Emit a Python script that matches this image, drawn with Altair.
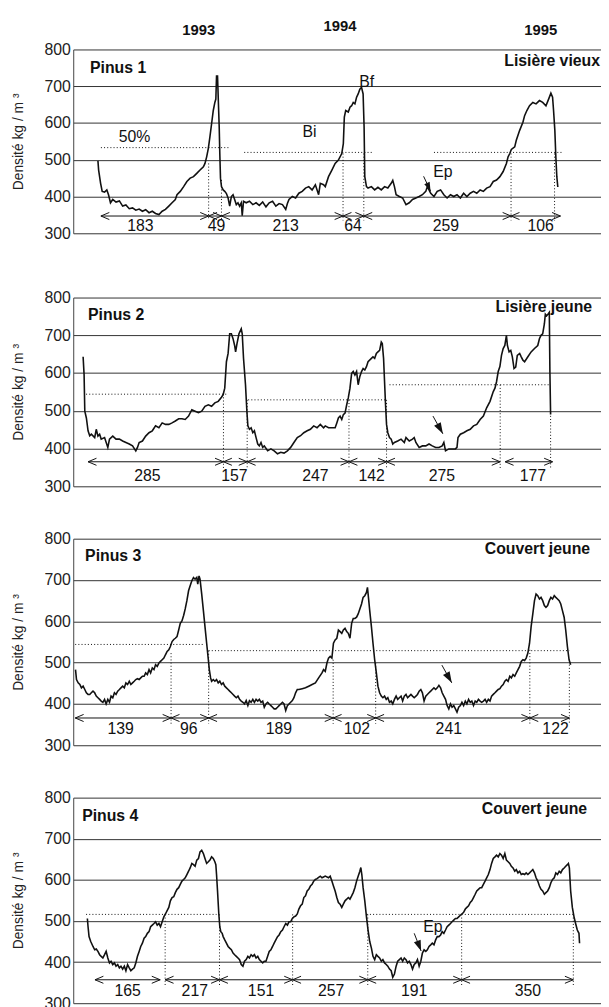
import altair as alt
import pandas as pd

FONT = "Liberation Sans"
INK = "#111111"
X_DOMAIN = [75, 609]
PLOT_W = 534
Y_TICKS = [300, 400, 500, 600, 700, 800]

# ---------------- Panel 1 : Pinus 1 ----------------
p1_x = [100, 100.7, 102.7, 104.3, 106.7, 109, 110.7, 112.7, 115, 118.3,
        121.7, 125, 128.3, 131.7, 135, 138.3, 141.7, 145, 148.3, 151.7,
        155, 158.3, 161.7, 165, 168.3, 171.7, 175, 178.3, 180, 183.3,
        186.7, 190, 193.3, 196.7, 200, 203.3, 206.7, 208.3, 210, 211.7,
        213.3, 215, 216.7, 218.3, 219.3, 220, 221, 221.7, 222.7, 223.3,
        224, 225, 226.7, 228.3, 230, 231.7, 233.3, 235, 236.7, 238.3,
        240, 241.7, 243.3, 245, 246, 247.3, 250, 253.3, 256.7, 260,
        263.3, 266.7, 270, 273.3, 276.7, 280, 283.3, 286.7, 290, 291.7,
        293.3, 296.7, 300, 303.3, 306.7, 310, 313.3, 316.7, 320, 323.3,
        325, 328.3,
        330, 333.3, 336.7, 340, 343.3, 346.7, 348.3, 349.3, 350.7, 353.3,
        355, 356.7, 358.3, 360, 361.7, 363.3, 365, 366.7, 368.3, 369.3,
        370, 371.7, 373.3, 376.7, 380, 383.3, 386.7, 390, 393.3, 396.7,
        398.3, 400, 401.7, 405, 408.3, 411.7, 415, 418.3, 421.7, 425,
        428.3, 431.7, 433.3, 436.7, 440, 443.3, 446.7, 450, 453.3, 456.7,
        460, 463.3, 466.7, 470, 473.3, 476.7, 480, 483.3, 486.7, 490,
        493.3, 496.7, 500, 503.3, 506.7, 510, 513.3, 515, 516.7, 518.3,
        521.7, 523.3, 526.7, 530, 531.7, 534, 536.7, 540, 543.3, 546.7,
        550, 553.3, 556, 558.3, 560, 561, 562.3, 563.3, 564.3, 565.3]
p1_d = [497, 472, 436, 414, 412, 418, 405, 383, 392, 385,
        388, 374, 377, 367, 369, 363, 366, 360, 364, 356,
        360, 354, 351, 360, 365, 374, 383, 392, 405, 414,
        427, 441, 450, 454, 463, 472, 481, 490, 508, 531,
        562, 598, 634, 656, 665, 728, 728, 670, 589, 517,
        450, 427, 418, 414, 408, 396, 374, 400, 405, 392,
        378, 383, 374, 383, 348, 387, 383, 387, 378, 383,
        376, 385, 372, 383, 387, 374, 381, 378, 365, 381,
        392, 400, 396, 409, 414, 423, 427, 418, 432, 405,
        436, 432,
        427, 454, 472, 490, 499, 517, 544, 616, 634, 630,
        643, 647, 656, 652, 670, 679, 692, 697, 679, 589,
        454, 427, 423, 427, 418, 425, 418, 427, 423, 436,
        444, 427, 405, 400, 396, 378, 383, 392, 396, 400,
        405, 414, 427, 409, 400, 414, 418, 405, 396, 405,
        400, 405, 396, 409, 400, 409, 414, 409, 418, 414,
        423, 427, 441, 445, 454, 468, 490, 508, 517, 528,
        535, 553, 580, 602, 620, 634, 647, 656, 652, 661,
        656, 647, 665, 681, 670, 634, 580, 508, 454, 426]
p1_seg_start = [103, 212, 225, 348, 369, 518]
p1_seg_end = [212, 225, 348, 369, 518, 568]
p1_seg_label = ["183", "49", "213", "64", "259", "106"]
p1_seg_label_x = [143, 220, 290, 358, 452, 548]
p1_arrow_d = 347
p1_label_d = 321
p1_half_x = [103, 248, 440]
p1_half_x2 = [233, 378, 570]
p1_half_d = [533, 520, 520]
p1_vline_x = [212, 225, 348, 369, 518, 562]
p1_vline_top = [490, 445, 517, 517, 517, 517]
p1_vline_bottom = 335

year_labels = ["1993", "1994", "1995"]
year_x = [202, 345, 548]
year_d = [852, 865, 852]

p1_note_text = ["50%", "Bi", "Bf", "Ep"]
p1_note_x = [137, 314, 372, 449]
p1_note_d = [563, 576, 712, 466]

# ---------------- Panel 2 : Pinus 2 ----------------
p2_x = [85, 86, 86.7, 88.3, 90, 91.7, 93.3, 96.7, 98.3, 100,
        101.7, 103.3, 106.7, 110, 111.7, 115, 118.3, 121.7, 125, 128.3,
        131.7, 135, 138.3, 140, 141.7, 145, 148.3, 151.7, 155, 158.3,
        161.7, 165, 168.3, 171.7, 175, 178.3, 181.7, 185, 188.3, 191.7,
        195, 198.3, 201.7, 205, 208.3, 211.7, 215, 218.3, 221.7, 225,
        226.7, 228.3, 230, 231.7, 233.3, 235, 236.7, 238.3, 239.3, 240.7,
        242.7, 245, 246, 247.3, 249.3, 250.7, 251.7, 253.3, 255, 256.7,
        258.3, 260, 261.7, 263.3, 265, 266.7, 268.3, 271.7, 275, 278.3,
        281.7, 285, 288.3, 291.7, 295, 298.3, 301.7, 305, 308.3, 311.7,
        315, 318.3, 321.7, 325, 328.3,
        330, 333.3, 336.7, 340, 341.7, 343.3, 345, 346.7, 348.3, 350,
        351.7, 353.3, 355, 356.7, 358.3, 360, 361.7, 363.3, 365, 366.7,
        368.3, 370, 371.7, 373.3, 376.7, 378.3, 380, 381.7, 383.3, 385,
        386.7, 387.7, 389, 390, 391, 392, 393.3, 395, 396.7, 398.3,
        400, 403.3, 406.7, 410, 411.7, 415, 418.3, 420, 421.7, 425,
        428.3, 431.7, 435, 438.3, 441.7, 445, 448.3, 450, 451.7, 455,
        458.3, 461.7, 463.3, 464.3, 466.7, 470, 473.3, 476.7, 480, 483.3,
        486.7, 490, 493.3, 496.7, 500, 501.7, 503.3, 505, 506.7, 508.3,
        510, 511.7, 513.3, 514.3, 516, 517.7, 519.3, 521, 522.7, 524.3,
        526.7, 528.3, 530, 531.7, 535, 538.3, 541.7, 545, 546.7, 548.3,
        550, 551.7, 552.7, 554, 555.3, 556.7, 557.3, 558]
p2_d = [643, 595, 499, 481, 447, 434, 438, 429, 451, 433,
        438, 425, 429, 403, 425, 433, 425, 425, 420, 416,
        412, 407, 394, 403, 416, 420, 433, 442, 447, 460,
        455, 468, 464, 464, 468, 473, 479, 479, 477, 486,
        503, 499, 495, 499, 512, 516, 512, 521, 525, 536,
        543, 560, 630, 652, 704, 704, 691, 673, 656, 678,
        704, 717, 704, 639, 569, 499, 460, 451, 455, 442,
        447, 429, 412, 407, 416, 403, 407, 394, 399, 394,
        386, 390, 388, 394, 403, 416, 429, 434, 442, 447,
        451, 460, 455, 464, 455,
        460, 455, 455, 455, 468, 481, 486, 477, 490, 494,
        516, 534, 560, 599, 604, 595, 604, 569, 591, 604,
        612, 608, 617, 630, 639, 643, 639, 652, 656, 660,
        682, 678, 639, 577, 516, 464, 442, 429, 425, 412,
        416, 420, 425, 416, 429, 420, 425, 429, 416, 403,
        407, 407, 412, 407, 403, 403, 407, 416, 394, 399,
        399, 399, 403, 429, 438, 442, 447, 451, 460, 464,
        477, 486, 508, 525, 551, 560, 577, 604, 617, 647,
        665, 673, 700, 673, 656, 660, 643, 612, 616, 647,
        652, 643, 634, 630, 643, 656, 665, 673, 691, 700,
        704, 730, 756, 752, 756, 761, 604, 490]
p2_seg_start = [90, 227, 251, 354, 392, 512]
p2_seg_end = [227, 251, 354, 392, 507, 560]
p2_seg_label = ["285", "157", "247", "142", "275", "177"]
p2_seg_label_x = [150, 238, 320, 377, 448, 540]
p2_arrow_d = 365
p2_label_d = 326
p2_half_x = [88, 252, 395]
p2_half_x2 = [230, 392, 558]
p2_half_d = [544, 529, 569]
p2_vline_x = [227, 251, 354, 392, 507, 558]
p2_vline_top = [544, 529, 529, 529, 569, 495]
p2_vline_bottom = 345

# ---------------- Panel 3 : Pinus 3 ----------------
p3_x = [77.3, 78.3, 80, 81.7, 83.3, 85, 86.7, 88.3, 90, 91.7,
        93.3, 95, 96.7, 98.3, 100, 101.7, 103.3, 105, 106.7, 108.3,
        110, 111.7, 113.3, 115, 116.7, 118.3, 120, 121.7, 123.3, 125,
        126.7, 128.3, 130, 131.7, 133.3, 135, 136.7, 138.3, 140, 141.7,
        143.3, 145, 146.7, 148.3, 150, 151.7, 153.3, 155, 156.7, 158.3,
        160, 161.7, 163.3, 165, 166.7, 168.3, 170, 171.7, 173.3, 175,
        176.7, 178.3, 180, 181.7, 183.3, 185, 186.7, 188.3, 190, 191.7,
        193.3, 195, 196.7, 198.3, 200, 201, 202.3, 203.3, 205, 206.7,
        208.3, 210, 211.7, 212.7, 214, 215, 216.7, 218.3, 220, 221.7,
        223.3, 225, 226.7, 228.3, 230, 231.7, 233.3, 235, 236.7, 238.3,
        240, 241.7, 243.3, 245, 246.7, 248.3, 250, 251.7, 253.3, 255,
        256.7, 258.3, 260, 261.7, 263.3, 265, 266.7, 268.3, 270, 271.7,
        273.3, 275, 276.7, 278.3, 280, 281.7, 283.3, 285, 286.7, 288.3,
        290, 291.7, 293.3, 295, 296.7, 298.3, 300, 301.7, 303.3, 306.7,
        310, 313.3, 316.7, 320, 323.3, 326.7, 328.3,
        330, 331.7, 333.3, 335, 336.7, 338.3, 340, 341.7, 343.3, 345,
        346.7, 348.3, 350, 351.7, 353.3, 355, 356.7, 358.3, 360, 361.7,
        363.3, 365, 366.7, 368.3, 370, 371.7, 372.7, 373.7, 375, 376.7,
        378.3, 380, 381.7, 383.3, 385, 386.7, 388.3, 390, 391.7, 393.3,
        395, 396.7, 398.3, 400, 401.7, 403.3, 405, 406.7, 408.3, 410,
        411.7, 413.3, 415, 416.7, 418.3, 420, 421.7, 423.3, 425, 426.7,
        428.3, 430, 431.7, 433.3, 435, 436.7, 438.3, 440, 441.7, 443.3,
        445, 446.7, 448.3, 450, 451.7, 453.3, 455, 456.7, 458.3, 460,
        461.7, 463.3, 465, 466.7, 468.3, 470, 471.7, 473.3, 475, 476.7,
        478.3, 480, 481.7, 483.3, 485, 486.7, 488.3, 490, 491.7, 493.3,
        495, 496.7, 498.3, 500, 501.7, 503.3, 505, 506.7, 508.3, 510,
        511.7, 513.3, 515, 516.7, 518.3, 520, 521.7, 523.3, 525, 526.7,
        528.3, 530, 531.7, 533.3, 535, 536.7, 538.3, 540, 541.7, 543.3,
        545, 546.7, 548.3, 550, 551.7, 553.3, 555, 556.7, 558.3, 560,
        561.7, 563.3, 565, 566.7, 568.3, 570, 571.7, 573.3, 575, 576.7,
        578.3]
p3_d = [483, 459, 451, 447, 439, 443, 435, 427, 423, 423,
        427, 431, 427, 419, 415, 411, 407, 404, 411, 400,
        411, 404, 419, 415, 427, 423, 431, 435, 439, 443,
        439, 451, 447, 455, 447, 451, 455, 459, 461, 459,
        463, 467, 467, 475, 471, 483, 475, 487, 483, 495,
        491, 499, 503, 507, 511, 519, 527, 531, 539, 551,
        556, 559, 563, 579, 595, 601, 614, 630, 650, 674,
        686, 698, 706, 702, 706, 690, 710, 702, 666, 626,
        587, 547, 507, 483, 463, 455, 459, 455, 459, 451,
        455, 447, 451, 443, 439, 435, 431, 427, 423, 419,
        415, 419, 411, 407, 404, 400, 408, 396, 408, 404,
        411, 404, 411, 407, 411, 404, 407, 392, 400, 404,
        400, 396, 392, 388, 388, 392, 396, 400, 404, 400,
        384, 396, 400, 404, 408, 415, 427, 435, 435, 437,
        439, 443, 447, 451, 463, 475, 483,
        479, 499, 511, 515, 511, 547, 555, 559, 579, 575,
        571, 579, 583, 575, 571, 559, 595, 607, 607, 610,
        618, 630, 642, 658, 662, 670, 682, 658, 626, 587,
        547, 507, 475, 443, 427, 419, 415, 419, 411, 415,
        404, 407, 400, 411, 419, 411, 415, 419, 407, 419,
        423, 415, 419, 423, 419, 415, 419, 423, 431, 435,
        427, 407, 419, 423, 427, 431, 435, 439, 435, 439,
        445, 439, 427, 419, 411, 396, 388, 400, 392, 396,
        388, 380, 392, 396, 404, 396, 407, 400, 411, 404,
        407, 396, 407, 404, 411, 407, 404, 407, 411, 404,
        411, 407, 419, 423, 427, 431, 435, 437, 443, 447,
        455, 459, 455, 467, 463, 471, 467, 475, 483, 491,
        503, 507, 505, 511, 523, 547, 587, 618, 650, 666,
        662, 654, 658, 650, 638, 634, 638, 650, 658, 654,
        662, 658, 654, 650, 642, 626, 610, 579, 539, 507,
        495]
p3_seg_start = [77, 174, 212, 338, 381, 537]
p3_seg_end = [174, 212, 338, 381, 537, 577]
p3_seg_label = ["139", "96", "189", "102", "241", "122"]
p3_seg_label_x = [123, 192, 283, 362, 455, 563]
p3_arrow_d = 366
p3_label_d = 340
p3_half_x = [77, 212]
p3_half_x2 = [208, 577]
p3_half_d = [544, 529]
p3_vline_x = [174, 212, 338, 381, 537, 577]
p3_vline_top = [523, 529, 507, 499, 531, 495]
p3_vline_bottom = 352

# ---------------- Panel 4 : Pinus 4 ----------------
p4_x = [89.3, 90, 91, 92.7, 95, 96.7, 98.3, 100, 101.7, 103.3,
        105, 106.7, 108.3, 110, 111.7, 113.3, 115, 116.7, 118.3, 120,
        121.7, 123.3, 125, 126.7, 128.3, 130, 131.7, 133.3, 135, 136.7,
        138.3, 140, 141.7, 143.3, 145, 146.7, 148.3, 150, 151.7, 153.3,
        155, 156.7, 158.3, 160, 161.7, 163.3, 165, 166.7, 168.3, 170,
        171.7, 173.3, 175, 176.7, 178.3, 180, 181.7, 183.3, 185, 186.7,
        188.3, 190, 191.7, 193.3, 195, 196.7, 198.3, 200, 201.7, 203.3,
        205, 206.7, 208.3, 210, 211.7, 213.3, 215, 216.7, 218.3, 219.3,
        220, 221, 222.3, 223.3, 224.3, 225.7, 226.7, 228.3, 230, 231.7,
        233.3, 235, 236.7, 238.3, 240, 241.7, 243.3, 245, 246.7, 248.3,
        250, 251.7, 253.3, 255, 256.7, 258.3, 260, 261.7, 263.3, 265,
        266.7, 268.3, 270, 271.7, 273.3, 275, 276.7, 278.3, 280, 281.7,
        283.3, 285, 286.7, 288.3, 290, 291.7, 293.3, 295, 296.7, 298.3,
        300, 301.7, 303.3, 305, 306.7, 308.3, 310, 311.7, 313.3, 315,
        316.7, 318.3, 320, 321.7, 323.3, 325, 326.7, 328.3,
        330, 333.3, 335, 336.7, 338.3, 340, 341.7, 343.3, 345, 346.7,
        348.3, 350, 351.7, 353.3, 355, 356.7, 358.3, 360, 361.7, 363.3,
        365, 366, 367, 368.3, 370, 371.7, 373.3, 375, 376.7, 378.3,
        380, 381.7, 383.3, 385, 386.7, 388.3, 390, 391.7, 393.3, 395,
        396.7, 398.3, 400, 401.7, 403.3, 405, 406.7, 408.3, 410, 411.7,
        413.3, 415, 416.7, 418.3, 420, 421.7, 423.3, 425, 426.7, 428.3,
        430, 431.7, 433.3, 435, 436.7, 438.3, 440, 441.7, 443.3, 445,
        446.7, 448.3, 450, 451.7, 453.3, 455, 456.7, 458.3, 460, 461.7,
        463.3, 465, 466.7, 468.3, 470, 471.7, 473.3, 475, 476.7, 478.3,
        480, 481.7, 483.3, 485, 486.7, 488.3, 490, 491.7, 493.3, 495,
        496.7, 498.3, 500, 501.7, 503.3, 505, 506.7, 508.3, 510, 511.7,
        513.3, 515, 516.7, 518.3, 520, 521.7, 523.3, 525, 526.7, 528.3,
        530, 531.7, 533.3, 535, 536.7, 538.3, 540, 541.7, 543.3, 545,
        546.7, 548.3, 550, 551.7, 553.3, 555, 556.7, 558.3, 560, 561.7,
        563.3, 565, 566.7, 568.3, 570, 571.7, 573.3, 575, 576, 577,
        578.3, 580, 581.7, 583.3, 585, 586.7, 587.3]
p4_d = [506, 486, 462, 450, 438, 430, 432, 426, 418, 414,
        410, 418, 426, 410, 398, 402, 394, 398, 390, 394,
        386, 390, 383, 390, 379, 394, 386, 379, 383, 386,
        398, 414, 426, 438, 446, 458, 462, 470, 474, 486,
        490, 494, 498, 490, 494, 486, 498, 510, 517, 525,
        533, 549, 557, 559, 569, 577, 581, 589, 597, 601,
        605, 613, 621, 629, 640, 637, 633, 648, 652, 668,
        672, 664, 652, 640, 644, 648, 656, 652, 644, 637,
        613, 573, 517, 486, 474, 470, 462, 454, 446, 438,
        434, 430, 422, 418, 414, 410, 406, 394, 390, 402,
        406, 414, 410, 418, 414, 418, 410, 414, 406, 402,
        398, 402, 402, 414, 426, 430, 438, 446, 454, 462,
        466, 474, 478, 486, 494, 490, 498, 498, 506, 510,
        512, 517, 529, 537, 541, 557, 561, 573, 577, 585,
        589, 597, 601, 603, 606, 609, 605, 607,
        609, 605, 609, 597, 585, 573, 557, 545, 541, 533,
        541, 549, 553, 557, 553, 561, 569, 581, 597, 609,
        621, 630, 613, 581, 549, 510, 478, 450, 434, 414,
        406, 418, 414, 410, 402, 406, 398, 394, 390, 383,
        379, 363, 371, 390, 402, 406, 410, 402, 410, 406,
        398, 402, 394, 383, 394, 398, 406, 390, 402, 422,
        430, 426, 430, 438, 442, 446, 442, 454, 462, 462,
        466, 474, 470, 478, 486, 490, 494, 498, 502, 506,
        506, 510, 514, 517, 521, 529, 533, 537, 545, 549,
        557, 565, 573, 577, 581, 581, 589, 597, 605, 613,
        625, 640, 652, 656, 660, 656, 664, 660, 652, 664,
        648, 644, 640, 633, 629, 621, 625, 617, 621, 613,
        615, 613, 617, 613, 617, 621, 625, 617, 605, 597,
        585, 577, 573, 565, 569, 573, 581, 593, 601, 605,
        617, 613, 621, 617, 625, 629, 633, 637, 640, 629,
        573, 533, 510, 494, 478, 470, 446]
p4_seg_start = [97, 168, 223, 297, 373, 468]
p4_seg_end = [163, 223, 297, 373, 468, 581]
p4_seg_label = ["165", "217", "151", "257", "191", "350"]
p4_seg_label_x = [130, 198, 265, 336, 420, 535]
p4_arrow_d = 357
p4_label_d = 329
p4_half_x = [88, 372]
p4_half_x2 = [220, 582]
p4_half_d = [516, 516]
p4_vline_x = [168, 223, 297, 373, 468, 581]
p4_vline_top = [516, 516, 516, 516, 516, 516]
p4_vline_bottom = 339

p4_note_text = ["Ep"]
p4_note_x = [439]
p4_note_d = [484]

# Ep arrows (start x, start density, tip x, tip density, angle, size)
ep_arrows = {
    1: (429.5, 455, 436.5, 415, 156, 200),
    2: (439, 486, 449, 439, 151, 330),
    3: (448, 494, 458, 451, 151, 330),
    4: (420, 470, 427, 427, 159, 300),
}

LEFT_CHEV = "M1,-0.42L0,0L1,0.42"
RIGHT_CHEV = "M-1,-0.42L0,0L-1,0.42"
HEAD = "M0,0L-0.42,1.25L0.42,1.25Z"

XS = alt.Scale(domain=X_DOMAIN, nice=False, zero=False)
YS = alt.Scale(domain=[300, 800], nice=False, zero=False)
AXIS = alt.Axis(values=Y_TICKS, title="Densité kg / m ³", grid=True,
                gridColor="#333333", gridWidth=1, domain=True,
                domainColor="#444444", domainWidth=1, ticks=False,
                labelFont=FONT, labelFontSize=16, labelColor="#222222",
                labelPadding=3, titleFont=FONT, titleFontSize=14,
                titleFontWeight="normal", titleColor="#222222", titlePadding=19)


def X(f):
    return alt.X(f, type="quantitative", scale=XS, axis=None)


def Y(f):
    return alt.Y(f, type="quantitative", scale=YS, axis=AXIS)


def text_layer(df, **kw):
    return alt.Chart(df).mark_text(font=FONT, color=INK, **kw).encode(
        x=X("x"), y=Y("d"), text="t:N")


def panel(idx, cx, cd, s0, s1, slab, slabx, arrow_d, label_d, hx, hx2, hd,
          vx, vtop, vbot, name, name_x, name_d, site, site_x, site_d, height,
          notes=None, spacer=False, years=False):
    curve = pd.DataFrame({"x": cx, "d": cd})
    segs = pd.DataFrame({"x0": s0, "x1": s1, "d": [arrow_d] * len(s0)})
    nums = pd.DataFrame({"x": slabx, "d": [label_d] * len(slabx), "t": slab})
    halves = pd.DataFrame({"x0": hx, "x1": hx2, "d": hd})
    vl = pd.DataFrame({"x": vx, "d0": vtop, "d1": [vbot] * len(vx)})
    names = pd.DataFrame({"x": [name_x], "d": [name_d], "t": [name]})
    sites = pd.DataFrame({"x": [site_x], "d": [site_d], "t": [site]})
    a = ep_arrows[idx]
    arr = pd.DataFrame({"x0": [a[0]], "d0": [a[1]], "x1": [a[2]], "d1": [a[3]]})

    layers = [
        alt.Chart(curve).mark_line(color=INK, strokeWidth=1.6).encode(
            x=X("x"), y=Y("d")),
        alt.Chart(halves).mark_rule(color=INK, strokeWidth=1, strokeDash=[1, 2.2]).encode(
            x=X("x0"), x2=alt.X2("x1"), y=Y("d")),
        alt.Chart(vl).mark_rule(color=INK, strokeWidth=1, strokeDash=[1, 2.2]).encode(
            x=X("x"), y=Y("d0"), y2=alt.Y2("d1")),
        alt.Chart(segs).mark_rule(color=INK, strokeWidth=1).encode(
            x=X("x0"), x2=alt.X2("x1"), y=Y("d")),
        alt.Chart(segs).mark_point(shape=LEFT_CHEV, filled=False, size=290,
                                   color=INK, strokeWidth=1, opacity=1).encode(
            x=X("x0"), y=Y("d")),
        alt.Chart(segs).mark_point(shape=RIGHT_CHEV, filled=False, size=290,
                                   color=INK, strokeWidth=1, opacity=1).encode(
            x=X("x1"), y=Y("d")),
        text_layer(nums, fontSize=16, align="center", baseline="middle"),
        text_layer(names, fontSize=16, fontWeight="bold", align="left", baseline="middle"),
        text_layer(sites, fontSize=16, fontWeight="bold", align="right", baseline="middle"),
        alt.Chart(arr).mark_rule(color=INK, strokeWidth=1).encode(
            x=X("x0"), y=Y("d0"), x2=alt.X2("x1"), y2=alt.Y2("d1")),
        alt.Chart(arr).mark_point(shape=HEAD, filled=True, size=a[5], angle=a[4],
                                  color=INK, opacity=1, strokeWidth=0).encode(
            x=X("x1"), y=Y("d1")),
    ]
    if notes is not None:
        nd = pd.DataFrame({"x": notes[1], "d": notes[2], "t": notes[0]})
        layers.append(text_layer(nd, fontSize=16, align="center", baseline="middle"))
    if years:
        yd = pd.DataFrame({"x": year_x, "d": year_d, "t": year_labels})
        layers.append(text_layer(yd, fontSize=15, fontWeight="bold",
                                 align="center", baseline="middle"))
    if spacer:
        sp = pd.DataFrame({"x": [80], "d": [852], "t": ["."]})
        layers.append(alt.Chart(sp).mark_text(font=FONT, fontSize=10, color="white",
                                              align="left", baseline="top").encode(
            x=X("x"), y=Y("d"), text="t:N"))
    return alt.layer(*layers).properties(width=PLOT_W, height=height)


c1 = panel(1, p1_x, p1_d, p1_seg_start, p1_seg_end, p1_seg_label, p1_seg_label_x,
           p1_arrow_d, p1_label_d, p1_half_x, p1_half_x2, p1_half_d,
           p1_vline_x, p1_vline_top, p1_vline_bottom,
           "Pinus 1", 92, 749, "Lisière vieux", 608, 768, 186,
           notes=(p1_note_text, p1_note_x, p1_note_d), years=True)
c2 = panel(2, p2_x, p2_d, p2_seg_start, p2_seg_end, p2_seg_label, p2_seg_label_x,
           p2_arrow_d, p2_label_d, p2_half_x, p2_half_x2, p2_half_d,
           p2_vline_x, p2_vline_top, p2_vline_bottom,
           "Pinus 2", 90, 754, "Lisière jeune", 600, 774, 191, spacer=True)
c3 = panel(3, p3_x, p3_d, p3_seg_start, p3_seg_end, p3_seg_label, p3_seg_label_x,
           p3_arrow_d, p3_label_d, p3_half_x, p3_half_x2, p3_half_d,
           p3_vline_x, p3_vline_top, p3_vline_bottom,
           "Pinus 3", 87, 757, "Couvert jeune", 598, 776, 209)
c4 = panel(4, p4_x, p4_d, p4_seg_start, p4_seg_end, p4_seg_label, p4_seg_label_x,
           p4_arrow_d, p4_label_d, p4_half_x, p4_half_x2, p4_half_d,
           p4_vline_x, p4_vline_top, p4_vline_bottom,
           "Pinus 4", 84, 754, "Couvert jeune", 595, 771, 208,
           notes=(p4_note_text, p4_note_x, p4_note_d))

chart = alt.vconcat(c1, c2, c3, c4, spacing=37).resolve_scale(
    x="independent", y="independent"
).properties(
    padding={"left": 3, "top": 4, "right": 0, "bottom": 0}
).configure_view(strokeWidth=0)

chart.save("out.html", embed_options={"renderer": "svg", "actions": False})
